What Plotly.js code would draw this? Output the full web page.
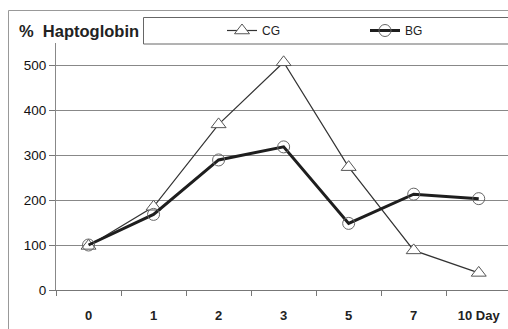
<!DOCTYPE html>
<html><head><meta charset="utf-8">
<script src="https://cdn.plot.ly/plotly-3.0.1.min.js"></script>
<style>html,body{margin:0;padding:0;background:#fff;}#chart{width:508px;height:329px;}</style>
</head><body><div id="chart"></div>
<script>
const days = ["0", "1", "2", "3", "5", "7", "10 Day"];
const cgValues = [98, 185, 368, 506, 273, 88, 38];
const bgValues = [100, 168, 289, 318, 148, 213, 203];
const yTicks = [0, 100, 200, 300, 400, 500];

const W = 508, H = 329, L = 56, R = 0, T = 43, B = 39;
const pw = W - L - R, ph = H - T - B;
const px = x => (x - L) / pw;
const py = y => (H - B - y) / ph;

const traces = [
  {x: days, y: cgValues, name: 'CG', type: 'scatter', mode: 'lines+markers', legend: 'legend',
   line: {color: '#333333', width: 1.2},
   marker: {symbol: 'triangle-up', size: 13, color: '#ffffff', line: {color: '#555555', width: 1}}},
  {x: days, y: bgValues, name: 'BG', type: 'scatter', mode: 'lines+markers', legend: 'legend2',
   line: {color: '#1e1e1e', width: 3},
   marker: {symbol: 'circle-open', size: 12, color: '#666666', line: {color: '#666666', width: 1}}}
];

const legendCommon = {orientation: 'h', yanchor: 'middle', xanchor: 'left',
  bgcolor: 'rgba(0,0,0,0)', borderwidth: 0, font: {size: 12, color: '#222'},
  itemclick: false, itemwidth: 30};

const layout = {
  width: W, height: H,
  margin: {l: L, r: R, t: T, b: B, pad: 0},
  paper_bgcolor: '#ffffff', plot_bgcolor: '#ffffff',
  font: {family: 'Liberation Sans, Arial, sans-serif', color: '#222222'},
  showlegend: true,
  legend: Object.assign({}, legendCommon, {x: px(222), y: py(30.5)}),
  legend2: Object.assign({}, legendCommon, {x: px(365), y: py(30.5)}),
  xaxis: {type: 'category', range: [-0.5, 6.45], showgrid: false, zeroline: false,
          showline: true, linecolor: '#777777', linewidth: 1,
          ticks: 'outside', tickson: 'boundaries', ticklen: 5, tickcolor: '#777777',
          ticklabelstandoff: 13,
          tickfont: {size: 13, color: '#222', family: 'Liberation Sans, Arial, sans-serif', weight: 'bold'},
          fixedrange: true},
  yaxis: {range: [0, ph / 0.45], tickvals: yTicks, ticktext: yTicks.map(String),
          showgrid: true, gridcolor: '#888888', gridwidth: 1, zeroline: false,
          showline: true, linecolor: '#888888', linewidth: 1,
          ticks: 'outside', ticklen: 6, tickcolor: '#777777',
          tickfont: {size: 13.5, color: '#111'}, fixedrange: true},
  shapes: [
    {type: 'rect', xref: 'paper', yref: 'paper', x0: px(8.5), x1: px(520), y0: py(340), y1: py(10.5),
     line: {color: '#999999', width: 1}, fillcolor: 'rgba(0,0,0,0)', layer: 'below'},
    {type: 'rect', xref: 'paper', yref: 'paper', x0: px(143.5), x1: px(520), y0: py(44), y1: py(17.5),
     line: {color: '#666666', width: 1}, fillcolor: '#ffffff', layer: 'below'}
  ],
  annotations: [
    {xref: 'paper', yref: 'paper', x: px(17), y: py(31), xanchor: 'left', yanchor: 'middle',
     text: '%  Haptoglobin', showarrow: false,
     font: {size: 16.5, color: '#222', family: 'Liberation Sans, Arial, sans-serif', weight: 'bold'}}
  ]
};

Plotly.newPlot('chart', traces, layout, {displayModeBar: false, staticPlot: true});
</script></body></html>
